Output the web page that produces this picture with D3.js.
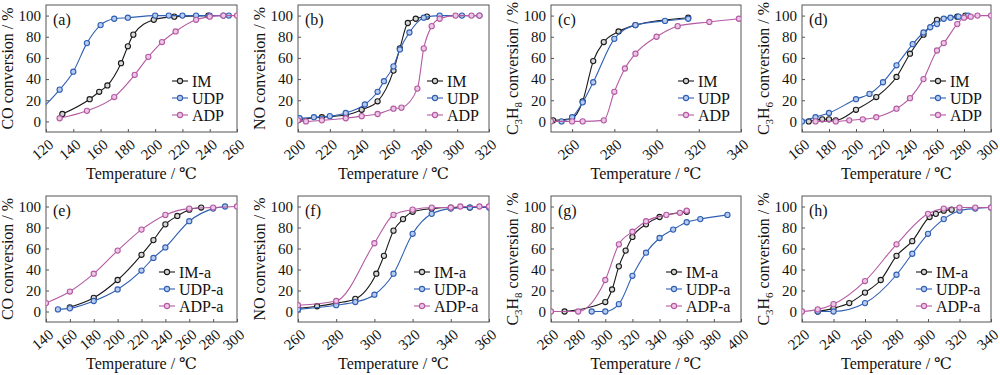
<!DOCTYPE html>
<html>
<head>
<meta charset="utf-8">
<script src="https://cdn.jsdelivr.net/npm/d3@7/dist/d3.min.js"></script>
<style>
  body { margin: 0; background: #fff; }
</style>
</head>
<body>
<div id="chart"></div>
<script>
// ================== DATOS ==================
const yTicks = [0, 20, 40, 60, 80, 100];

// (a) CO
const aIM_T  = [132, 152, 159, 165, 175, 180, 184, 199, 214, 239];
const aIM_V  = [7, 21, 28, 34, 55, 71, 82, 96, 99, 100];
const aUDP_T = [117, 130, 140, 150, 160, 170, 180, 200, 210, 220, 230, 240, 250, 254];
const aUDP_V = [12, 30, 47, 74, 91, 97, 98, 100, 100, 100, 100, 100, 100, 100];
const aADP_T = [130, 150, 170, 185, 195, 205, 215, 230, 240, 250, 260];
const aADP_V = [3, 10, 23, 44, 61, 75, 85, 96, 99, 100, 100];

// (b) NO
const bIM_T  = [201, 215, 230, 240, 250, 260, 264, 269, 274, 281];
const bIM_V  = [2, 4, 6, 11, 19, 48, 69, 93, 97, 99];
const bUDP_T = [201, 210, 220, 230, 242, 250, 254, 260, 264, 270, 279, 289, 303, 314];
const bUDP_V = [3, 4, 5, 8, 16, 28, 38, 52, 68, 84, 98, 100, 100, 100];
const bADP_T = [200, 205, 215, 230, 240, 250, 260, 265, 275, 279, 284, 289, 299, 309, 314];
const bADP_V = [1, 0, 1, 3, 5, 7, 12, 13, 31, 69, 90, 97, 100, 100, 100];

// (c) C3H8
const cIM_T  = [251, 260, 265, 270, 275, 282, 290, 315];
const cIM_V  = [1, 3, 19, 57, 75, 85, 91, 98];
const cUDP_T = [255, 260, 265, 270, 280, 290, 304, 315];
const cUDP_V = [0, 4, 18, 37, 78, 91, 95, 97];
const cADP_T = [250, 260, 265, 275, 280, 285, 290, 300, 310, 325, 339];
const cADP_V = [0, 0, 0, 1, 28, 50, 64, 80, 90, 94, 97];

// (d) C3H6
const dIM_T  = [165, 175, 180, 185, 200, 215, 230, 240, 250, 260, 275, 281];
const dIM_V  = [0, 2, 2, 1, 11, 23, 42, 64, 82, 96, 99, 100];
const dUDP_T = [160, 170, 180, 200, 210, 220, 230, 242, 250, 255, 260, 265, 270, 276, 283];
const dUDP_V = [0, 4, 8, 21, 26, 37, 53, 73, 84, 89, 92, 97, 98, 99, 100];
const dADP_T = [170, 185, 195, 205, 215, 230, 240, 250, 260, 265, 275, 280, 285, 290, 300];
const dADP_V = [0, 0, 1, 2, 4, 12, 22, 40, 67, 74, 92, 98, 99, 100, 100];

// (e) CO, -a
const eIM_T  = [160, 180, 200, 220, 230, 240, 250, 260, 270];
const eIM_V  = [4, 13, 30, 54, 68, 83, 91, 97, 99];
const eUDP_T = [150, 160, 180, 200, 220, 230, 240, 260, 280, 290];
const eUDP_V = [2, 3, 10, 21, 39, 51, 61, 86, 98, 100];
const eADP_T = [140, 160, 180, 200, 220, 240, 260, 280, 300];
const eADP_V = [8, 19, 36, 58, 78, 92, 98, 99, 100];

// (f) NO, -a
const fIM_T  = [260, 270, 280, 290, 301, 305, 310, 315, 320, 330, 340, 350];
const fIM_V  = [3, 5, 8, 12, 36, 53, 77, 88, 95, 98, 99, 99];
const fUDP_T = [260, 280, 290, 300, 310, 320, 330, 340, 350, 360];
const fUDP_V = [2, 6, 9, 16, 36, 74, 93, 98, 99, 99];
const fADP_T = [260, 280, 300, 310, 320, 330, 340, 345, 355, 360];
const fADP_V = [6, 10, 65, 92, 97, 99, 99, 100, 100, 100];

// (g) C3H8, -a
const gIM_T  = [270, 300, 305, 310, 315, 320, 330, 340, 360];
const gIM_V  = [0, 9, 21, 43, 58, 71, 83, 90, 95];
const gUDP_T = [290, 300, 310, 320, 330, 340, 350, 360, 370, 390];
const gUDP_V = [0, 0, 7, 34, 56, 70, 78, 85, 88, 92];
const gADP_T = [260, 280, 300, 310, 320, 330, 345, 355, 360];
const gADP_V = [0, 0, 30, 64, 76, 86, 92, 94, 96];

// (h) C3H6, -a
const hIM_T  = [230, 240, 250, 260, 270, 280, 290, 301, 305, 310, 315];
const hIM_V  = [0, 3, 8, 18, 30, 53, 67, 90, 93, 96, 97];
const hUDP_T = [230, 240, 260, 280, 290, 300, 310, 320, 330, 340];
const hUDP_V = [0, 0, 8, 35, 55, 74, 88, 96, 98, 99];
const hADP_T = [220, 230, 240, 260, 280, 300, 310, 320, 330, 340];
const hADP_V = [0, 2, 7, 29, 64, 93, 98, 99, 99, 99];

const seriesNames1 = ["IM", "UDP", "ADP"];
const seriesNames2 = ["IM-a", "UDP-a", "ADP-a"];

// ================== CONFIGURACIÓN ==================
const FONT = "'Liberation Serif', 'Times New Roman', 'DejaVu Serif', serif";
const colors = ["#1a1a1a", "#2f5fb3", "#b45aa3"];
const fills = ["#d8d8d8", "#b9cbee", "#ecc6e4"];

const panelX = [46, 298, 551, 802];
const panelW = [191, 191, 190, 189];
const rowTop = [5, 196];
const rowBottom = [132, 322];

const zip = (T, V) => T.map((t, i) => ({ t: t, v: V[i] }));

const panels = [
  { id: "a", col: 0, row: 0, x: [120, 260], ticks: d3.range(120, 261, 20), yl: ["CO"], names: seriesNames1, leg: 65,
    s: [zip(aIM_T, aIM_V), zip(aUDP_T, aUDP_V), zip(aADP_T, aADP_V)] },
  { id: "b", col: 1, row: 0, x: [200, 320], ticks: d3.range(200, 321, 20), yl: ["NO"], names: seriesNames1, leg: 62,
    s: [zip(bIM_T, bIM_V), zip(bUDP_T, bUDP_V), zip(bADP_T, bADP_V)] },
  { id: "c", col: 2, row: 0, x: [250, 340], ticks: d3.range(260, 341, 20), yl: ["C", "3", "H", "8"], names: seriesNames1, leg: 63,
    s: [zip(cIM_T, cIM_V), zip(cUDP_T, cUDP_V), zip(cADP_T, cADP_V)] },
  { id: "d", col: 3, row: 0, x: [160, 300], ticks: d3.range(160, 301, 20), yl: ["C", "3", "H", "6"], names: seriesNames1, leg: 61,
    s: [zip(dIM_T, dIM_V), zip(dUDP_T, dUDP_V), zip(dADP_T, dADP_V)] },
  { id: "e", col: 0, row: 1, x: [140, 300], ticks: d3.range(140, 301, 20), yl: ["CO"], names: seriesNames2, leg: 78,
    s: [zip(eIM_T, eIM_V), zip(eUDP_T, eUDP_V), zip(eADP_T, eADP_V)] },
  { id: "f", col: 1, row: 1, x: [260, 360], ticks: d3.range(260, 361, 20), yl: ["NO"], names: seriesNames2, leg: 75,
    s: [zip(fIM_T, fIM_V), zip(fUDP_T, fUDP_V), zip(fADP_T, fADP_V)] },
  { id: "g", col: 2, row: 1, x: [260, 400], ticks: d3.range(260, 401, 20), yl: ["C", "3", "H", "8"], names: seriesNames2, leg: 75,
    s: [zip(gIM_T, gIM_V), zip(gUDP_T, gUDP_V), zip(gADP_T, gADP_V)] },
  { id: "h", col: 3, row: 1, x: [220, 340], ticks: d3.range(220, 341, 20), yl: ["C", "3", "H", "6"], names: seriesNames2, leg: 75,
    s: [zip(hIM_T, hIM_V), zip(hUDP_T, hUDP_V), zip(hADP_T, hADP_V)] }
];

const svg = d3.select("#chart")
  .append("svg")
  .attr("width", 1000)
  .attr("height", 375)
  .attr("font-family", FONT);

// ================== DIBUJAR PANELES ==================
panels.forEach(p => {
  const left = panelX[p.col];
  const right = left + panelW[p.col];
  const top = rowTop[p.row];
  const bottom = rowBottom[p.row];

  const x = d3.scaleLinear().domain(p.x).range([left, right]);
  const y = d3.scaleLinear().domain([-10, 110]).range([bottom, top]);

  const g = svg.append("g");

  svg.append("clipPath").attr("id", "clip-" + p.id)
    .append("rect")
    .attr("x", left).attr("y", top)
    .attr("width", right - left).attr("height", bottom - top);

  // Ejes (ticks hacia dentro)
  const xAxis = g.append("g")
    .attr("transform", `translate(0,${bottom})`)
    .call(d3.axisBottom(x).tickValues(p.ticks).tickSizeInner(-3).tickSizeOuter(0).tickFormat(d3.format("d")));
  xAxis.attr("font-family", FONT);
  xAxis.select(".domain").remove();
  xAxis.selectAll("line").attr("stroke", "#555");
  xAxis.selectAll("text")
    .attr("font-size", 15)
    .attr("fill", "#111")
    .attr("text-anchor", "end")
    .attr("transform", "translate(1,6) rotate(-40)")
    .attr("y", 0).attr("x", 0).attr("dy", "0.72em");

  const yAxis = g.append("g")
    .attr("transform", `translate(${left},0)`)
    .call(d3.axisLeft(y).tickValues(yTicks).tickSizeInner(-3).tickSizeOuter(0).tickPadding(5));
  yAxis.attr("font-family", FONT);
  yAxis.select(".domain").remove();
  yAxis.selectAll("line").attr("stroke", "#555");
  yAxis.selectAll("text").attr("font-size", 15).attr("fill", "#111");

  // Marco
  g.append("rect")
    .attr("x", left).attr("y", top)
    .attr("width", right - left).attr("height", bottom - top)
    .attr("fill", "none").attr("stroke", "#555").attr("stroke-width", 1);

  // Títulos
  g.append("text")
    .attr("x", (left + right) / 2)
    .attr("y", bottom + 47)
    .attr("text-anchor", "middle")
    .attr("font-size", 16)
    .attr("fill", "#111")
    .text("Temperature / ℃");

  const yt = g.append("text")
    .attr("transform", `translate(${left - 39},${(top + bottom) / 2}) rotate(-90)`)
    .attr("text-anchor", "middle")
    .attr("dy", "0.35em")
    .attr("font-size", 16)
    .attr("fill", "#111");
  if (p.yl.length === 1) {
    yt.append("tspan").text(p.yl[0] + " conversion / %");
  } else {
    yt.append("tspan").text(p.yl[0]);
    yt.append("tspan").attr("font-size", 11).attr("dy", 4).text(p.yl[1]);
    yt.append("tspan").attr("dy", -4).text(p.yl[2]);
    yt.append("tspan").attr("font-size", 11).attr("dy", 4).text(p.yl[3]);
    yt.append("tspan").attr("dy", -4).text(" conversion / %");
  }

  g.append("text")
    .attr("x", left + 7)
    .attr("y", top + 20)
    .attr("font-size", 16)
    .attr("fill", "#111")
    .text("(" + p.id + ")");

  // Curvas
  const line = d3.line()
    .x(d => x(d.t))
    .y(d => y(d.v))
    .curve(d3.curveMonotoneX);

  const plot = g.append("g").attr("clip-path", `url(#clip-${p.id})`);

  p.s.forEach((data, i) => {
    plot.append("path")
      .datum(data)
      .attr("d", line)
      .attr("fill", "none")
      .attr("stroke", colors[i])
      .attr("stroke-width", 1.1);

    plot.selectAll(".pt" + i)
      .data(data)
      .enter()
      .append("circle")
      .attr("class", "pt" + i)
      .attr("cx", d => x(d.t))
      .attr("cy", d => y(d.v))
      .attr("r", 2.6)
      .attr("fill", fills[i])
      .attr("stroke", colors[i])
      .attr("stroke-width", 1.1);
  });

  // Leyenda
  const lx = right - p.leg;
  p.names.forEach((name, i) => {
    const ly = top + 76 + i * 17;
    g.append("line")
      .attr("x1", lx).attr("x2", lx + 16)
      .attr("y1", ly).attr("y2", ly)
      .attr("stroke", colors[i]).attr("stroke-width", 1.1);
    g.append("circle")
      .attr("cx", lx + 8).attr("cy", ly).attr("r", 2.6)
      .attr("fill", fills[i]).attr("stroke", colors[i]).attr("stroke-width", 1.1);
    g.append("text")
      .attr("x", lx + 20).attr("y", ly)
      .attr("dy", "0.35em")
      .attr("font-size", 16)
      .attr("fill", "#111")
      .text(name);
  });
});
</script>
</body>
</html>
